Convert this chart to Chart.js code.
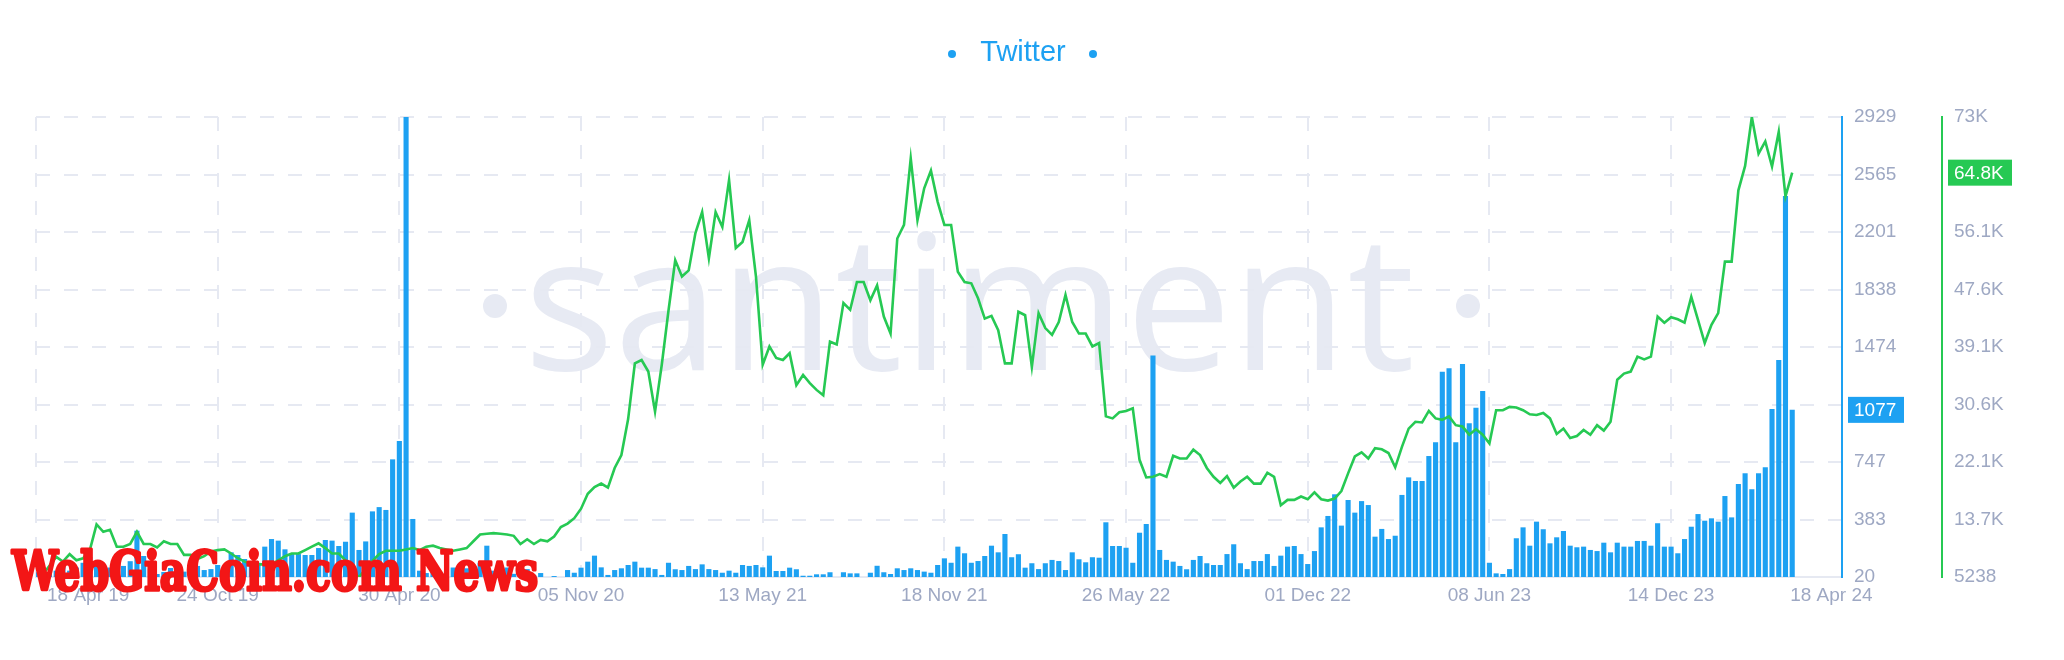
<!DOCTYPE html>
<html>
<head>
<meta charset="utf-8">
<script src="https://cdn.jsdelivr.net/npm/chart.js@4.4.1/dist/chart.umd.min.js"></script>
<style>
  html, body { margin: 0; padding: 0; background: #fff; }
  #wrap { width: 2064px; height: 660px; }
</style>
</head>
<body>
<div id="wrap"><canvas id="chart" width="2064" height="660"></canvas></div>
<script>
"use strict";

// one point per week, 18 Apr 19 -> 18 Apr 24
const barValues = [
  50, 70, 40, 60, 90, 60, 80, 110, 146, 100,
  60, 80, 60, 90, 120, 313, 153, 70, 39, 52,
  77, 60, 54, 80, 90, 64, 70, 96, 60, 176,
  159, 134, 90, 110, 212, 260, 250, 195, 165, 165,
  159, 159, 203, 254, 250, 216, 243, 427, 191, 245,
  435, 462, 444, 764, 880, 2929, 387, 60, 45, 70,
  40, 55, 80, 60, 75, 90, 110, 218, 60, 50,
  80, 40, 55, 70, 30, 45, 20, 26, 20, 64,
  47, 79, 117, 155, 81, 33, 64, 75, 96, 117,
  79, 79, 70, 33, 110, 69, 64, 90, 70, 100,
  70, 64, 47, 60, 47, 96, 90, 96, 81, 155,
  58, 58, 79, 69, 28, 28, 37, 37, 50, 20,
  50, 43, 43, 20, 47, 91, 50, 39, 75, 64,
  75, 64, 54, 47, 96, 138, 110, 212, 170, 110,
  121, 153, 218, 176, 292, 145, 164, 79, 107, 70,
  107, 128, 121, 64, 176, 132, 113, 145, 142, 366,
  216, 216, 205, 110, 300, 355, 1420, 191, 128, 117,
  90, 69, 128, 153, 107, 96, 96, 165, 227, 107,
  70, 121, 121, 165, 90, 155, 212, 216, 165, 102,
  184, 334, 406, 543, 345, 507, 427, 500, 475, 275,
  324, 260, 281, 539, 650, 627, 627, 785, 872, 1318,
  1340, 872, 1367, 992, 1091, 1196, 110, 43, 39, 70,
  265, 334, 218, 370, 322, 233, 271, 311, 218, 208,
  212, 191, 184, 237, 176, 237, 212, 212, 248, 248,
  218, 360, 212, 212, 170, 260, 338, 418, 376, 391,
  370, 532, 397, 608, 676, 575, 676, 714, 1082, 1392,
  2429, 1077
];

const lineValues = [
  6500, 5600, 6900, 8200, 7500, 8600, 7700, 8000, 9200, 13000,
  11900, 12200, 9700, 9700, 10100, 11900, 10100, 10100, 9600, 10500,
  10100, 10100, 8500, 8500, 7900, 8300, 9000, 9200, 9300, 8700,
  8000, 7500, 7200, 7100, 7100, 7100, 7700, 8300, 8700, 8700,
  9200, 9700, 10200, 9500, 8700, 8700, 7700, 6000, 5238, 6400,
  7600, 8600, 9100, 9100, 9100, 9300, 9500, 9200, 9700, 9850,
  9500, 9300, 9100, 9300, 9500, 10500, 11500, 11600, 11700, 11600,
  11500, 11300, 10100, 10800, 10100, 10700, 10500, 11200, 12600, 13100,
  13900, 15300, 17500, 18500, 19000, 18400, 21300, 23200, 28500, 36700,
  37200, 35500, 29600, 36500, 44500, 51900, 49500, 50400, 55900, 59000,
  52200, 59000, 56800, 63700, 53700, 54600, 57800, 49500, 36500, 39200,
  37500, 37200, 38200, 33500, 35000, 33800, 32800, 32000, 39900, 39500,
  45600, 44600, 48700, 48700, 46000, 48200, 43600, 41100, 55100, 57100,
  66900, 57800, 62500, 65100, 60500, 57100, 57100, 50200, 48700, 48500,
  46300, 43300, 43700, 41600, 36700, 36700, 44300, 43800, 36200, 44100,
  41900, 40900, 42800, 46800, 42800, 41100, 41100, 39200, 39700, 28900,
  28600, 29500, 29700, 30100, 22500, 19900, 20000, 20400, 20000, 23100,
  22700, 22700, 24000, 23200, 21300, 20000, 19100, 20100, 18400, 19300,
  20000, 19000, 19000, 20600, 20000, 15800, 16600, 16600, 17100, 16700,
  17700, 16700, 16500, 16800, 17900, 20500, 23000, 23600, 22700, 24200,
  24050, 23500, 21400, 24400, 27100, 28100, 28000, 29700, 28600, 28400,
  28900, 27600, 27400, 26200, 27000, 26200, 24900, 29800, 29800, 30300,
  30200, 29800, 29200, 29100, 29400, 28600, 26300, 27100, 25700, 26000,
  26900, 26200, 27600, 26800, 28100, 34300, 35200, 35500, 37700, 37300,
  37700, 43600, 42700, 43500, 43200, 42700, 46500, 43100, 39700, 42400,
  44100, 51700, 51700, 62200, 65800, 73000, 67600, 69400, 65700, 70800,
  61300, 64800
];

const xTickWeeks = [0, 27, 54, 81, 108, 135, 162, 189, 216, 243, 261];
const xTickLabels = ["18 Apr 19", "24 Oct 19", "30 Apr 20", "05 Nov 20", "13 May 21", "18 Nov 21",
  "26 May 22", "01 Dec 22", "08 Jun 23", "14 Dec 23", "18 Apr 24"];
const barTickLabels = ["20", "383", "747", "1110", "1474", "1838", "2201", "2565", "2929"];
const lineTickLabels = ["5238", "13.7K", "22.1K", "30.6K", "39.1K", "47.6K", "56.1K", "64.5K", "73K"];

const seriesName = "Twitter";

// colours
const blue = "#1da1f2";
const green = "#26c953";
const gridColor = "#e6e9f2";
const tickColor = "#9ea8c3";
const fontFamily = '"Liberation Sans", Arial, sans-serif';

const barMin = Math.min(...barValues);
const barMax = Math.max(...barValues);
const lineMin = Math.min(...lineValues);
const lineMax = Math.max(...lineValues);

const evenTicks = (min, max, n) => {
  const out = [];
  for (let k = 0; k < n; k++) out.push({ value: min + (max - min) * k / (n - 1) });
  return out;
};

const formatK = (v) => (v / 1000).toFixed(1) + "K";


// background watermark
const watermarkPlugin = {
  id: "watermark",
  beforeDraw(chart) {
    const ctx = chart.ctx;
    ctx.save();
    ctx.fillStyle = "#e7eaf3";
    ctx.font = '250px "Open Sans", sans-serif';
    const w = ctx.measureText("santiment").width;
    const size = 250 * 891 / w;
    ctx.font = size + 'px "Open Sans", sans-serif';
    ctx.textAlign = "left";
    ctx.textBaseline = "alphabetic";
    ctx.fillText("santiment", 524, 370);
    [495, 1468].forEach(x => {
      ctx.beginPath();
      ctx.arc(x, 306, 12, 0, Math.PI * 2);
      ctx.fill();
    });
    ctx.restore();
  }
};

// x labels, last value boxes, legend, overlay text
const overlayPlugin = {
  id: "overlay",
  afterDraw(chart) {
    const ctx = chart.ctx;
    const xs = chart.scales.x;
    const area = chart.chartArea;
    ctx.save();

    // date labels
    ctx.font = "19px " + fontFamily;
    ctx.fillStyle = tickColor;
    ctx.textBaseline = "middle";
    xTickWeeks.forEach((w, k) => {
      const px = xs.getPixelForValue(w);
      let x = px;
      ctx.textAlign = "center";
      if (k === 0) { x = px + 11; ctx.textAlign = "left"; }
      if (k === xTickWeeks.length - 1) { x = px - 2; ctx.textAlign = "left"; }
      ctx.fillText(xTickLabels[k], x, area.bottom + 19);
    });

    // last value boxes
    const lastBar = barValues[barValues.length - 1];
    const lastLine = lineValues[lineValues.length - 1];
    const yb = chart.scales.yBar;
    const yl = chart.scales.yLine;
    ctx.textAlign = "left";
    ctx.fillStyle = blue;
    let y = yb.getPixelForValue(lastBar);
    ctx.fillRect(yb.left + 6, y - 13, 56, 26);
    ctx.fillStyle = "#fff";
    ctx.fillText(String(lastBar), yb.left + 12, y + 1);

    ctx.fillStyle = green;
    y = yl.getPixelForValue(lastLine);
    ctx.fillRect(yl.left + 6, y - 13, 64, 26);
    ctx.fillStyle = "#fff";
    ctx.fillText(formatK(lastLine), yl.left + 12, y + 1);

    // legend
    ctx.fillStyle = blue;
    ctx.font = "29px " + fontFamily;
    ctx.textAlign = "center";
    ctx.fillText(seriesName, 1023, 53);
    [952, 1093].forEach(x => {
      ctx.beginPath();
      ctx.arc(x, 54, 4, 0, Math.PI * 2);
      ctx.fill();
    });

    // red overlay text
    ctx.font = 'bold 54px "DejaVu Serif Condensed", "DejaVu Serif", serif';
    const txt = "WebGiaCoin.com News";
    const tw = ctx.measureText(txt).width;
    ctx.translate(12, 590);
    ctx.scale(526 / tw, 1);
    ctx.textAlign = "left";
    ctx.textBaseline = "alphabetic";
    ctx.fillStyle = "#f31616";
    ctx.strokeStyle = "#f31616";
    ctx.lineWidth = 3;
    ctx.lineJoin = "round";
    ctx.strokeText(txt, 0, 0);
    ctx.fillText(txt, 0, 0);

    ctx.restore();
  }
};


const chartEl = document.getElementById("chart");

new Chart(chartEl, {
  type: "bar",
  data: {
    datasets: [
      {
        type: "line",
        label: seriesName,
        data: lineValues.map((v, i) => ({ x: i, y: v })),
        yAxisID: "yLine",
        borderColor: green,
        borderWidth: 2.6,
        pointRadius: 0,
        tension: 0,
        order: 0,
      },
      {
        type: "bar",
        label: seriesName,
        data: barValues.map((v, i) => ({ x: i, y: v })),
        yAxisID: "yBar",
        backgroundColor: blue,
        barPercentage: 0.76,
        categoryPercentage: 1,
        order: 1,
      },
    ],
  },
  options: {
    responsive: false,
    devicePixelRatio: 1,
    animation: false,
    events: [],
    layout: { padding: { left: 36, top: 117, right: 0, bottom: 0 } },
    plugins: {
      legend: { display: false },
      tooltip: { enabled: false },
    },
    scales: {
      x: {
        type: "linear",
        min: 0,
        max: 268.4,
        bounds: "data",
        offset: false,
        grid: {
          offset: false,
          drawTicks: false,
          lineWidth: 2,
          color: (c) => (c.tick && c.tick.value === 261 ? "rgba(0,0,0,0)" : gridColor),
        },
        border: { display: true, color: gridColor, width: 2, dash: [14, 14] },
        ticks: { display: false },
        afterBuildTicks: (scale) => { scale.ticks = xTickWeeks.map(v => ({ value: v })); },
        afterFit: (scale) => { scale.height = 83; },
      },
      yBar: {
        type: "linear",
        position: "right",
        weight: 1,
        min: barMin,
        max: barMax,
        bounds: "data",
        grid: { drawTicks: false, lineWidth: 2, color: gridColor },
        border: { display: true, color: blue, width: 2, dash: [14, 14] },
        ticks: {
          autoSkip: false,
          padding: 12,
          color: tickColor,
          font: { size: 19, family: fontFamily },
          callback: (v, idx) => barTickLabels[idx],
        },
        afterBuildTicks: (scale) => { scale.ticks = evenTicks(barMin, barMax, barTickLabels.length); },
        afterFit: (scale) => { scale.width = 100; },
      },
      yLine: {
        type: "linear",
        position: "right",
        weight: 2,
        min: lineMin,
        max: lineMax,
        bounds: "data",
        grid: { display: true, drawOnChartArea: false, drawTicks: false },
        border: { display: true, color: green, width: 2 },
        ticks: {
          autoSkip: false,
          padding: 12,
          color: tickColor,
          font: { size: 19, family: fontFamily },
          callback: (v, idx) => lineTickLabels[idx],
        },
        afterBuildTicks: (scale) => { scale.ticks = evenTicks(lineMin, lineMax, lineTickLabels.length); },
        afterFit: (scale) => { scale.width = 122; },
      },
    },
  },
  plugins: [watermarkPlugin, overlayPlugin],
});
</script>
</body>
</html>
